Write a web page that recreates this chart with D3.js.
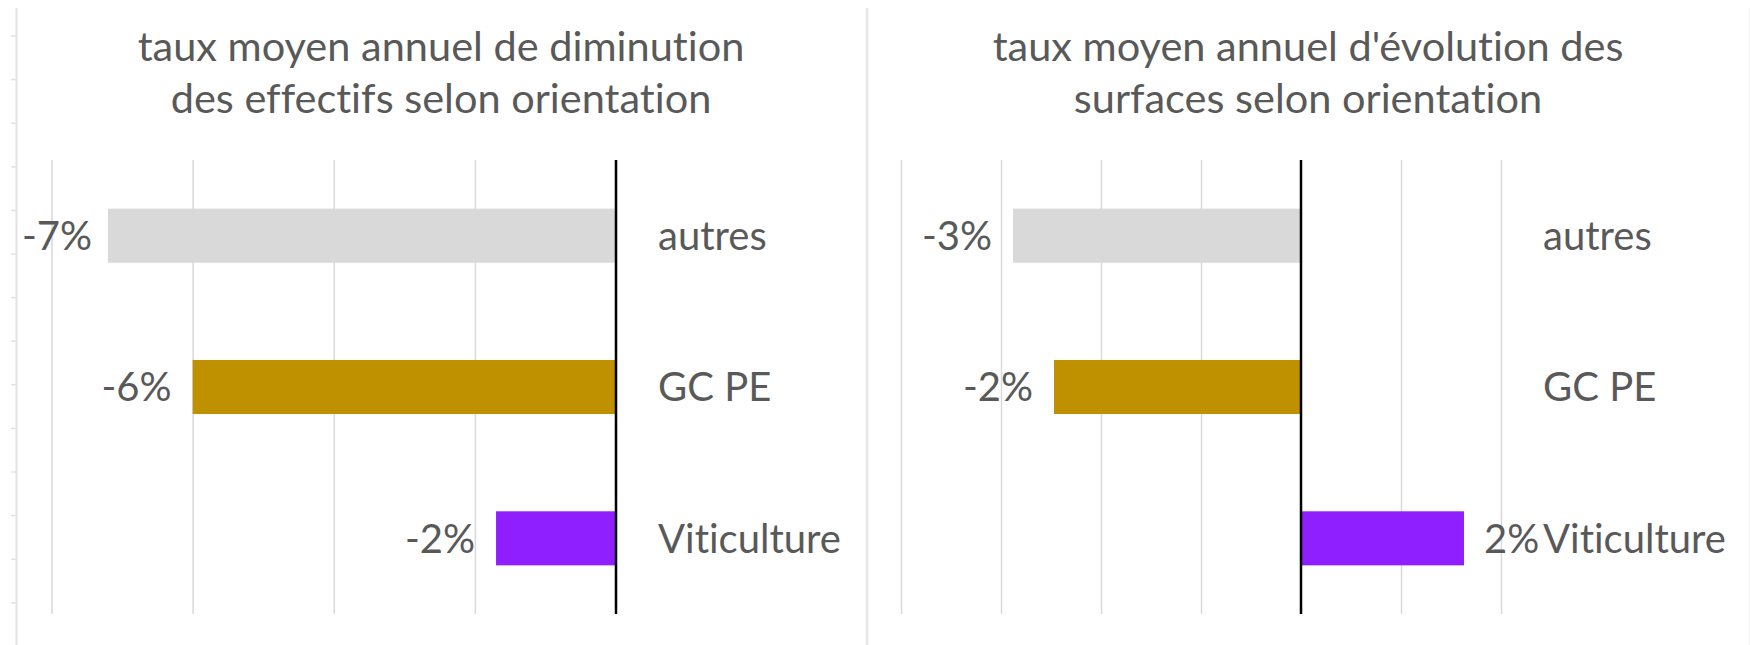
<!DOCTYPE html>
<html>
<head>
<meta charset="utf-8">
<script src="https://cdn.jsdelivr.net/npm/d3@7"></script>
<style>
  html, body { margin: 0; padding: 0; background: #ffffff; }
  svg { display: block; }
  text { font-family: Lato, "Open Sans", sans-serif; fill: #595959; font-variant-ligatures: none; }
</style>
</head>
<body>
<svg id="chart" width="1750" height="645"></svg>
<script>
// ---------- data ----------
const categories = ["autres", "GC PE", "Viticulture"];
const effectifsValues = [-0.072, -0.060, -0.017];
const surfacesValues = [-0.0288, -0.0247, 0.0163];
const barColors = ["#d9d9d9", "#bf9000", "#8f1fff"];
const effectifsTicks = [-0.08, -0.06, -0.04, -0.02, 0];
const surfacesTicks = [-0.04, -0.03, -0.02, -0.01, 0, 0.01, 0.02];
const titleEffectifs = ["taux moyen annuel de diminution", "des effectifs selon orientation"];
const titleSurfaces = ["taux moyen annuel d'évolution des", "surfaces selon orientation"];

// ---------- setup ----------
const svg = d3.select("#chart");
const W = 1750, H = 645;
const fmt = d3.formatLocale({decimal: ".", thousands: ",", grouping: [3], currency: ["", ""], minus: "-"}).format(".0%");
const FONT = 40;
const TITLE_FONT = 41.5;

// background decoration: faint left frame with row ticks, panel divider
const deco = svg.append("g");
deco.append("line").attr("x1", 16.5).attr("x2", 16.5).attr("y1", 8).attr("y2", H)
  .attr("stroke", "#e2e2e2").attr("stroke-width", 2);
deco.selectAll("line.rowtick").data(d3.range(36, H, 43.6)).join("line")
  .attr("class", "rowtick")
  .attr("x1", 11).attr("x2", 16.5).attr("y1", d => d).attr("y2", d => d)
  .attr("stroke", "#e2e2e2").attr("stroke-width", 1.5);
deco.append("line").attr("x1", 867).attr("x2", 867).attr("y1", 8).attr("y2", H)
  .attr("stroke", "#e6e6e6").attr("stroke-width", 2.5);
deco.append("line").attr("x1", 1749.5).attr("x2", 1749.5).attr("y1", 8).attr("y2", H)
  .attr("stroke", "#f2f2f2").attr("stroke-width", 1);

function panel(opts) {
  const g = svg.append("g");
  const x = d3.scaleLinear().domain(opts.domain).range(opts.xRange);
  const y = d3.scaleBand().domain(categories).range([160, 614])
    .paddingInner(1.8 / 2.8).paddingOuter(0.9 / 2.8);

  // title
  const t = g.append("text").attr("text-anchor", "middle")
    .attr("font-size", TITLE_FONT);
  opts.title.forEach((line, i) => {
    t.append("tspan").attr("x", opts.titleX).attr("y", 61 + i * 52).text(line);
  });

  // vertical gridlines (axis without labels)
  const grid = d3.axisBottom(x).tickValues(opts.ticks.filter(v => v !== 0))
    .tickSize(-(614 - 160)).tickFormat("");
  g.append("g").attr("transform", "translate(0,614)").call(grid)
    .call(s => s.select(".domain").remove())
    .call(s => s.selectAll(".tick line").attr("stroke", "#d9d9d9").attr("stroke-width", 1.5));

  // bars
  g.selectAll("rect.bar").data(opts.values).join("rect")
    .attr("class", "bar")
    .attr("x", d => x(Math.min(0, d)))
    .attr("width", d => Math.abs(x(d) - x(0)))
    .attr("y", (d, i) => y(categories[i]))
    .attr("height", y.bandwidth())
    .attr("fill", (d, i) => barColors[i]);

  // zero axis line
  g.append("line").attr("x1", x(0)).attr("x2", x(0)).attr("y1", 160).attr("y2", 614)
    .attr("stroke", "#000").attr("stroke-width", 2.5);

  // data labels (outside end)
  g.selectAll("text.val").data(opts.values).join("text")
    .attr("class", "val")
    .attr("font-size", FONT)
    .attr("text-anchor", d => d < 0 ? "end" : "start")
    .attr("x", d => d < 0 ? Math.max(x(d) - 21, 92) : x(d) + 20)
    .attr("y", (d, i) => y(categories[i]) + y.bandwidth() / 2)
    .attr("dy", "0.36em")
    .text(d => fmt(d));

  // category labels at the high end of the axis
  g.selectAll("text.cat").data(categories).join("text")
    .attr("class", "cat")
    .attr("font-size", FONT)
    .attr("x", x.range()[1] + 42)
    .attr("y", d => y(d) + y.bandwidth() / 2)
    .attr("dy", "0.36em")
    .text(d => d);
}

panel({domain: [-0.08, 0], xRange: [51.5, 616], values: effectifsValues,
       ticks: effectifsTicks, title: titleEffectifs, titleX: 441});
panel({domain: [-0.04, 0.02], xRange: [901, 1501], values: surfacesValues,
       ticks: surfacesTicks, title: titleSurfaces, titleX: 1308});
</script>
</body>
</html>
